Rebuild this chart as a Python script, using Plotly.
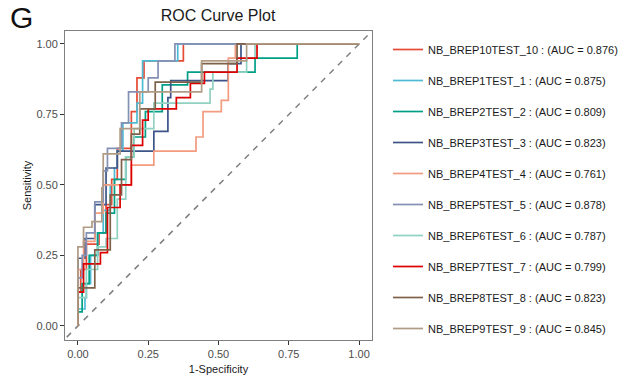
import plotly.graph_objects as go

# ROC step curves: each point is the right end of a horizontal run (fpr, tpr)
model_names = [
    "NB_BREP10TEST_10", "NB_BREP1TEST_1", "NB_BREP2TEST_2", "NB_BREP3TEST_3",
    "NB_BREP4TEST_4", "NB_BREP5TEST_5", "NB_BREP6TEST_6", "NB_BREP7TEST_7",
    "NB_BREP8TEST_8", "NB_BREP9TEST_9",
]
auc_values = [0.876, 0.875, 0.809, 0.823, 0.761, 0.878, 0.787, 0.799, 0.823, 0.845]

fpr_10 = [0, .01, .03, .075, .10, .12, .14, .19, .21, .235, .375, 1]
tpr_10 = [0, .12, .20, .29, .33, .43, .52, .63, .76, .88, .94, 1]

fpr_1 = [0, .025, .03, .045, .07, .09, .115, .13, .14, .16, .21, .23, .355, 1]
tpr_1 = [0, .06, .10, .15, .25, .33, .41, .50, .56, .62, .72, .79, .94, 1]

fpr_2 = [0, .015, .04, .07, .10, .13, .17, .20, .24, .30, .39, .63, .78, 1]
tpr_2 = [0, .05, .15, .25, .33, .40, .52, .60, .67, .76, .855, .90, .95, 1]

fpr_3 = [0, .025, .06, .10, .14, .27, .32, .33, .534, .58, 1]
tpr_3 = [0, .24, .31, .43, .56, .62, .69, .81, .87, .93, 1]

fpr_4 = [0, .02, .06, .09, .19, .27, .42, .445, .51, .535, .56, 1]
tpr_4 = [0, .20, .30, .40, .50, .57, .62, .67, .76, .80, .95, 1]

fpr_5 = [0, .015, .03, .06, .09, .105, .155, .18, .25, .285, .345, 1]
tpr_5 = [0, .17, .25, .33, .44, .55, .63, .72, .83, .88, .94, 1]

fpr_6 = [0, .03, .07, .10, .14, .17, .20, .27, .47, .48, .60, .63, 1]
tpr_6 = [0, .10, .20, .28, .31, .45, .60, .70, .79, .84, .90, .95, 1]

fpr_7 = [0, .02, .08, .105, .15, .19, .23, .25, .35, .40, .45, .566, .637, 1]
tpr_7 = [0, .12, .22, .26, .42, .50, .64, .73, .77, .81, .86, .90, .95, 1]

fpr_8 = [0, .06, .115, .155, .19, .22, .275, .44, .566, 1]
tpr_8 = [0, .135, .27, .465, .59, .68, .77, .865, .93, 1]

fpr_9 = [0, .02, .05, .085, .09, .15, .22, .44, .60, 1]
tpr_9 = [0, .28, .35, .37, .49, .61, .70, .83, .94, 1]

fpr_list = [fpr_10, fpr_1, fpr_2, fpr_3, fpr_4, fpr_5, fpr_6, fpr_7, fpr_8, fpr_9]
tpr_list = [tpr_10, tpr_1, tpr_2, tpr_3, tpr_4, tpr_5, tpr_6, tpr_7, tpr_8, tpr_9]

colors = ["#E64B35", "#4DBBD5", "#00A087", "#3C5488", "#F39B7F",
          "#8491B4", "#91D1C2", "#DC0000", "#7E6148", "#B09C85"]

tick_vals = [0, 0.25, 0.5, 0.75, 1.0]
tick_text = ["0.00", "0.25", "0.50", "0.75", "1.00"]

FONT = "Liberation Sans, Arial, sans-serif"

fig = go.Figure()

# chance diagonal
fig.add_trace(go.Scatter(
    x=[-0.1, 1.1], y=[-0.1, 1.1], mode="lines",
    line=dict(color="#808080", width=1.5, dash="6px,6px"),
    showlegend=False, hoverinfo="skip",
))

for i, name in enumerate(model_names):
    fig.add_trace(go.Scatter(
        x=fpr_list[i], y=tpr_list[i], mode="lines",
        line=dict(color=colors[i], width=1.7, shape="vh"),
        name=f"{name} : (AUC = {auc_values[i]:.3f})",
        legendgroup=name,
    ))

axis_common = dict(
    showgrid=False, zeroline=False, showline=True, mirror=True,
    linecolor="#7f7f7f", linewidth=1, automargin=False,
    ticks="outside", ticklen=4, tickwidth=1, tickcolor="#333333",
    tickvals=tick_vals, ticktext=tick_text,
    tickfont=dict(family=FONT, size=11, color="#4d4d4d"),
)

fig.update_layout(
    width=621, height=375,
    margin=dict(l=65, r=249, t=31, b=35),
    paper_bgcolor="white", plot_bgcolor="white",
    title=dict(text="ROC Curve Plot", x=218 / 621, xanchor="center",
               y=1 - 15 / 375, yanchor="middle",
               font=dict(family=FONT, size=16, color="#1a1a1a")),
    xaxis=dict(range=[-0.046, 1.046], ticklabelstandoff=0,
               title=dict(text="1-Specificity",
                          font=dict(family=FONT, size=11, color="#1a1a1a"), standoff=8),
               **axis_common),
    yaxis=dict(range=[-0.05, 1.046],
               title=dict(text="Sensitivity",
                          font=dict(family=FONT, size=11, color="#1a1a1a"), standoff=2),
               **axis_common),
    legend=dict(
        xref="container", yref="container", x=388 / 621, y=1 - 35 / 375,
        xanchor="left", yanchor="top",
        font=dict(family=FONT, size=11, color="#1a1a1a"),
        tracegroupgap=12, itemwidth=30, maxheight=340,
        bgcolor="rgba(0,0,0,0)",
    ),
    annotations=[dict(
        text="G", xref="paper", yref="paper", x=-65 / 307 + 8 / 307, y=1 + 13 / 309,
        xanchor="left", yanchor="middle", showarrow=False,
        font=dict(family=FONT, size=30, color="#111111"),
    )],
)

fig.write_html("out.html")
